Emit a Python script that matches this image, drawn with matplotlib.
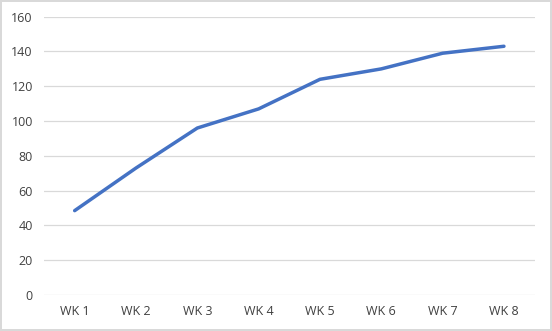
import matplotlib.pyplot as plt

weeks = ["WK 1", "WK 2", "WK 3", "WK 4", "WK 5", "WK 6", "WK 7", "WK 8"]
values = [48.5, 73, 96, 107, 124, 130, 139, 143]

plt.rcParams["font.family"] = ["Open Sans", "DejaVu Sans"]

fig = plt.figure(figsize=(5.52, 3.31), dpi=100)
fig.patch.set_edgecolor("#d9d9d9")
fig.patch.set_linewidth(1.5)
ax = fig.add_axes([44 / 552, 1 - 295 / 331, 490.6 / 552, 278.3 / 331])

x = list(range(len(weeks)))
ax.plot(x, values, color="#4472C4", linewidth=2.5, solid_capstyle="round", solid_joinstyle="round", zorder=3)

ax.set_xlim(-0.5, len(weeks) - 0.5)
ax.set_ylim(0, 160)
ax.set_yticks(range(0, 161, 20))
ax.set_xticks(x)
ax.set_xticklabels(weeks)
ax.grid(axis="y", color="#d9d9d9", linewidth=0.9)
ax.set_axisbelow(True)
for s in ax.spines.values():
    s.set_visible(False)
ax.tick_params(axis="both", length=0, labelsize=9, labelcolor="#404040")
ax.tick_params(axis="y", pad=8)
ax.tick_params(axis="x", pad=7)

fig.savefig("out.png", dpi=100, edgecolor=fig.get_edgecolor())
